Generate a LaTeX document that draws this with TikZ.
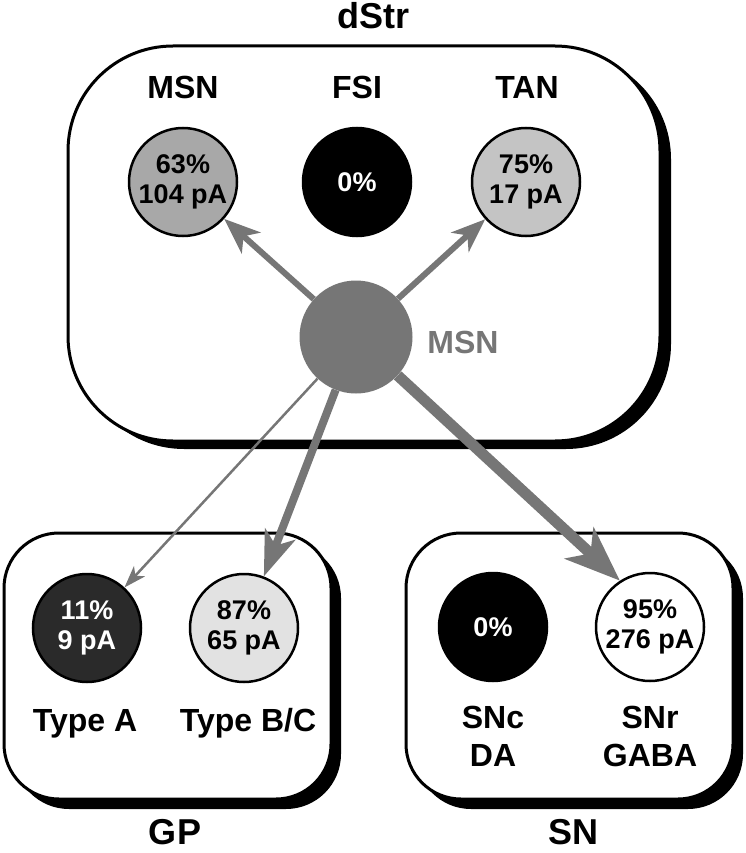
\documentclass[tikz,border=0pt]{standalone}
\usepackage{fontspec}
\setmainfont{Liberation Sans}
\usetikzlibrary{arrows.meta}
\definecolor{projgray}{HTML}{767676}
\definecolor{msngray}{HTML}{A8A8A8}
\definecolor{tangray}{HTML}{C4C4C4}
\definecolor{typeagray}{HTML}{2A2A2A}
\definecolor{typebcgray}{HTML}{E2E2E2}
\newcommand\regionsize{\fontsize{36}{40}\selectfont}
\newcommand\labelsize{\fontsize{32}{38}\selectfont}
\tikzset {
  >=Stealth,
  every node/.style={font=\bfseries\labelsize},
  cell/.style={circle,draw,line width=2.5pt,minimum size=108pt,inner sep=0pt,
    align=center,font=\bfseries\fontsize{27}{30}\selectfont},
  region/.style={fill=white,draw,line width=3pt},
  title/.style={font=\bfseries\regionsize,inner sep=0.5pt,anchor=base},
  proj/.style={draw=projgray,line width=#1},
}

\begin{document}
\begin{tikzpicture}[x=1pt,y=-1pt]
  \useasboundingbox (0,0) rectangle (746,853);
  % boxes with their shadows
  \fill[shift={(11,8)},rounded corners=105pt] (68,46) rectangle (660,441);
  \draw[region,rounded corners=105pt] (68,46) rectangle (660,441);
  \fill[shift={(10,10)},rounded corners=55pt] (4,533) rectangle (331,799);
  \draw[region,rounded corners=55pt] (4,533) rectangle (331,799);
  \fill[shift={(10,10)},rounded corners=55pt] (406,533) rectangle (733,799);
  \draw[region,rounded corners=55pt] (406,533) rectangle (733,799);

  \node[title] (dstr) at (373,29) {dStr};
  \node[title] (gp) at (175,844) {GP};
  \node[title] (sn) at (573,844) {SN};

  % striatum
  \node[anchor=base] (lmsn) at (183,99) {MSN};
  \node[anchor=base] (lfsi) at (357,99) {FSI};
  \node[anchor=base] (ltan) at (527,99) {TAN};
  \node[cell,fill=msngray] (msnt) at (183,182) {63\%\\104 pA};
  \node[cell,fill=black,text=white] (fsi) at (357,182) {0\%};
  \node[cell,fill=tangray] (tan) at (526,182) {75\%\\17 pA};
  \node[circle,fill=projgray,minimum size=113pt,inner sep=0pt] (msn) at (356,337) {};
  \node[anchor=base,text=projgray] (lmsnsrc) at (463,353) {MSN};

  % globus pallidus
  \node[cell,fill=typeagray,text=white] (typea) at (87,628) {11\%\\9 pA};
  \node[cell,fill=typebcgray] (typebc) at (244,628) {87\%\\65 pA};
  \node[anchor=base] (ltypea) at (85,731) {Type A};
  \node[anchor=base] (ltypebc) at (248,731) {Type B/C};

  % substantia nigra
  \node[cell,fill=black,text=white] (snc) at (493,627) {0\%};
  \node[cell,fill=white] (snr) at (650,627) {95\%\\276 pA};
  \node[align=center] (lsnc) at (493,736) {SNc\\DA};
  \node[align=center] (lsnr) at (650,736) {SNr\\GABA};

  % projections
  \draw[proj=6pt,-{Stealth[length=36pt,width=28pt,inset=10pt]}] (msn) -- (msnt);
  \draw[proj=6pt,-{Stealth[length=34pt,width=26pt,inset=10pt]}] (msn) -- (tan);
  \draw[proj=2.5pt,-{Stealth[length=22pt,width=15pt,inset=6pt]}] (msn) -- (typea);
  \draw[proj=8pt,-{Stealth[length=45pt,width=32pt,inset=12pt]}] (msn) -- (typebc);
  \draw[proj=11pt,-{Stealth[length=55pt,width=42pt,inset=15pt]}] (msn) -- (snr.123);
\end{tikzpicture}
\end{document}
